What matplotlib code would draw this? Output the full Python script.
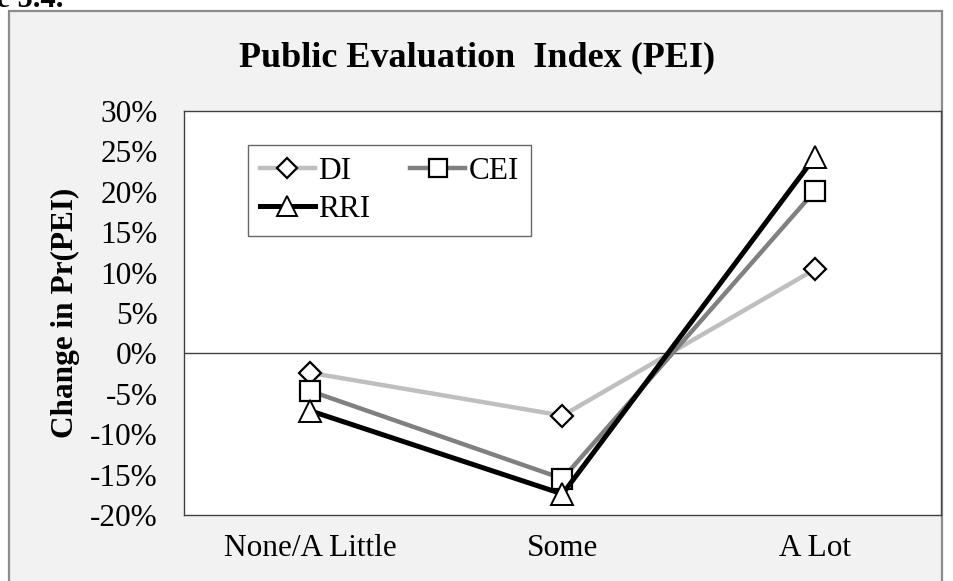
import matplotlib
matplotlib.use("Agg")
import matplotlib.pyplot as plt
from matplotlib.patches import Rectangle
from matplotlib.ticker import PercentFormatter

plt.rcParams["font.family"] = ["Liberation Serif", "DejaVu Serif"]
plt.rcParams["axes.unicode_minus"] = False

categories = ["None/A Little", "Some", "A Lot"]
di = [-2.4, -7.7, 10.4]
cei = [-4.65, -15.5, 20.1]
rri = [-7.1, -17.4, 24.3]
yticks = [-20, -15, -10, -5, 0, 5, 10, 15, 20, 25, 30]

fig = plt.figure(figsize=(9.54, 5.81), dpi=100)

# grey chart frame, cut by the bottom of the picture
frame = Rectangle((9 / 954, -0.05), (942 - 9) / 954, 1 - 11 / 581 + 0.05,
                  transform=fig.transFigure, facecolor="#F2F2F2",
                  edgecolor="#8C8C8C", linewidth=1.6, zorder=-5)
fig.patches.append(frame)

# caption above, mostly cut off
fig.text(63 / 954, 1 - 7 / 581, "Figure 5.4.", ha="right", va="baseline",
         fontsize=22, fontweight="bold")

ax = fig.add_axes([184 / 954, 1 - 515 / 581, 757 / 954, 404 / 581])
ax.set_zorder(2)
ax.set_facecolor("white")
x = range(len(categories))

ax.axhline(0, color="#404040", linewidth=1.0, zorder=1)
ax.plot(x, di, color="#BFBFBF", linewidth=3.2, marker="D", markersize=11.5,
        markerfacecolor="white", markeredgecolor="black", markeredgewidth=1.6,
        label="DI", zorder=3)
ax.plot(x, cei, color="#808080", linewidth=3.2, marker="s", markersize=14.5,
        markerfacecolor="white", markeredgecolor="black", markeredgewidth=1.6,
        label="CEI", zorder=4)
ax.plot(x, rri, color="black", linewidth=3.6, marker="^", markersize=15.5,
        markerfacecolor="white", markeredgecolor="black", markeredgewidth=1.4,
        label="RRI", zorder=5)

ax.set_xlim(-0.5, 2.5)
ax.set_ylim(-20, 30)
ax.set_yticks(yticks)
ax.yaxis.set_major_formatter(PercentFormatter(decimals=0))
ax.set_xticks(list(x))
ax.set_xticklabels(categories)
ax.tick_params(axis="both", length=0, labelsize=22.5)
ax.tick_params(axis="y", pad=19)
ax.tick_params(axis="x", pad=14)
for s in ax.spines.values():
    s.set_color("#404040")
    s.set_linewidth(1.0)

fig.text(65 / 954, 1 - 313 / 581, "Change in Pr(PEI)", rotation=90,
         ha="center", va="center", fontsize=22.5, fontweight="bold")
fig.text(477 / 954, 1 - 58 / 581, "Public Evaluation  Index (PEI)",
         ha="center", va="center", fontsize=26, fontweight="bold")

h, l = ax.get_legend_handles_labels()
leg = ax.legend([h[0], h[2], h[1]], [l[0], l[2], l[1]], ncol=2,
                loc="upper left", bbox_to_anchor=((248 - 184) / 757, (515 - 145) / 404),
                fontsize=22.5, frameon=True, fancybox=False, edgecolor="#404040",
                handlelength=1.75, handletextpad=0.1, columnspacing=1.3,
                labelspacing=0.3, borderpad=0.38, borderaxespad=0, markerscale=0.9)
leg.get_frame().set_linewidth(1.0)

fig.savefig("out.png", dpi=100)
